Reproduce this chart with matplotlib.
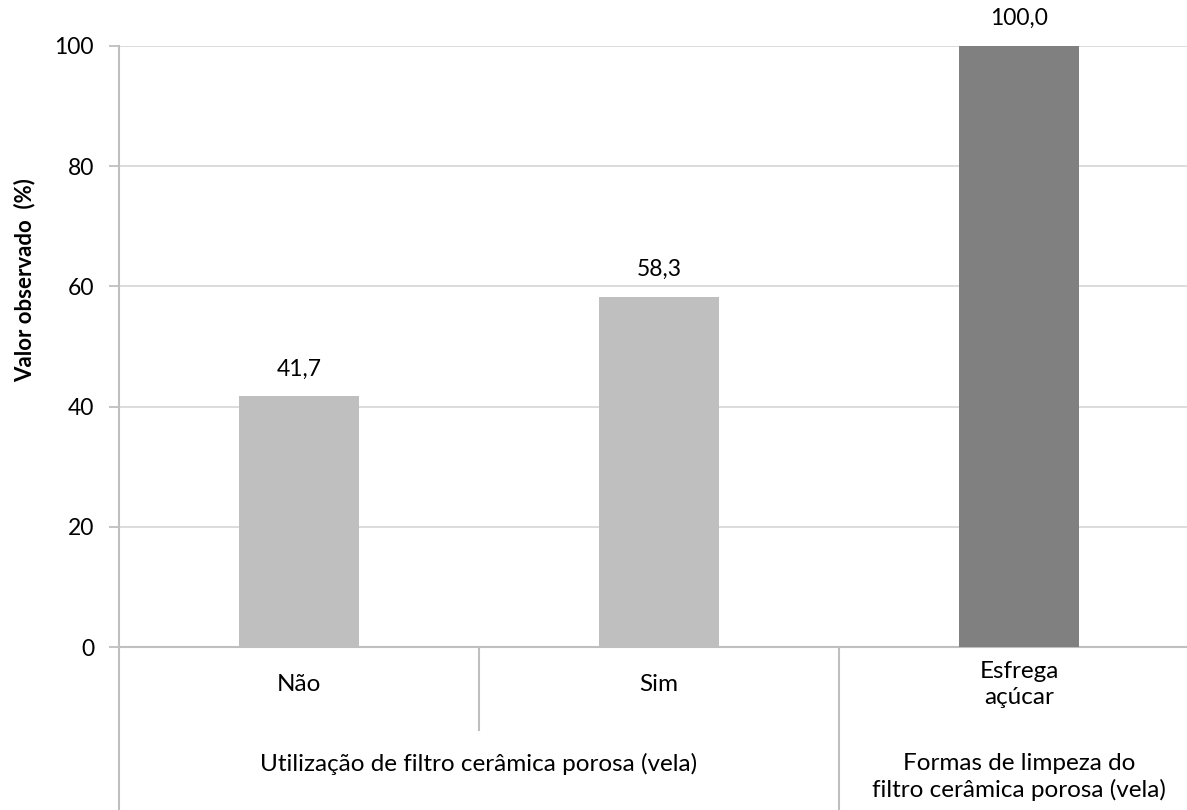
import matplotlib
matplotlib.use("Agg")
import matplotlib.pyplot as plt
import matplotlib.transforms as mtransforms

# Data
categories = ["Não", "Sim", "Esfrega\naçúcar"]
values = [41.7, 58.3, 100.0]
bar_colors = ["#BFBFBF", "#BFBFBF", "#808080"]
groups = ["Utilização de filtro cerâmica porosa (vela)",
          "Formas de limpeza do\nfiltro cerâmica porosa (vela)"]
group_spans = [(0, 1), (2, 2)]
y_ticks = [0, 20, 40, 60, 80, 100]

plt.rcParams["font.family"] = ["Lato", "DejaVu Sans"]
plt.rcParams["font.size"] = 17

W, H = 1187, 810
fig = plt.figure(figsize=(W / 100, H / 100), dpi=100)
ax = fig.add_axes([119 / W, 163 / H, 1080 / W, 601 / H])

x = list(range(len(categories)))
bars = ax.bar(x, values, width=0.336, color=bar_colors, zorder=3)

ax.set_xlim(-0.5, len(categories) - 0.5)
ax.set_ylim(0, 100)
ax.set_yticks(y_ticks)
ax.yaxis.grid(True, color="#D9D9D9", linewidth=1.3)
ax.set_axisbelow(True)

for s in ["top", "right"]:
    ax.spines[s].set_visible(False)
for s in ["left", "bottom"]:
    ax.spines[s].set_color("#BFBFBF")
    ax.spines[s].set_linewidth(1.5)

ax.tick_params(axis="y", length=7, width=1.3, color="#BFBFBF", pad=11,
               labelsize=16.5, labelcolor="#000000")
ax.tick_params(axis="x", length=0, pad=27, labelsize=17.5)
ax.set_xticks(x)
ax.set_xticklabels(categories)
for lab in ax.get_xticklabels():
    lab.set_va("center")
    lab.set_linespacing(1.25)

# value labels
for b, v in zip(bars, values):
    ax.annotate(f"{v:.1f}".replace(".", ","),
                (b.get_x() + b.get_width() / 2, b.get_height()),
                xytext=(0, 12), textcoords="offset points",
                ha="center", va="bottom", fontsize=16.5)

# multi-level category axis lines
trans = mtransforms.blended_transform_factory(ax.transData, ax.transAxes)
bottom = -163 / 601
ax.plot([-0.5, -0.5], [0, bottom], transform=trans, color="#BFBFBF",
        lw=1.5, clip_on=False)
ax.plot([0.5, 0.5], [0, -83 / 601], transform=trans, color="#BFBFBF",
        lw=1.5, clip_on=False)
ax.plot([1.5, 1.5], [0, bottom], transform=trans, color="#BFBFBF",
        lw=1.5, clip_on=False)

for g, (a, b) in zip(groups, group_spans):
    ax.text((a + b) / 2, -0.177, g, transform=trans, ha="center", va="top",
            fontsize=17.5, linespacing=1.25)

fig.text(25 / W, 0.5 - (280 - 405) / H, "Valor observado  (%)", rotation=90,
         ha="center", va="center", fontsize=16, fontweight="bold")

fig.savefig("out.png", dpi=100)
